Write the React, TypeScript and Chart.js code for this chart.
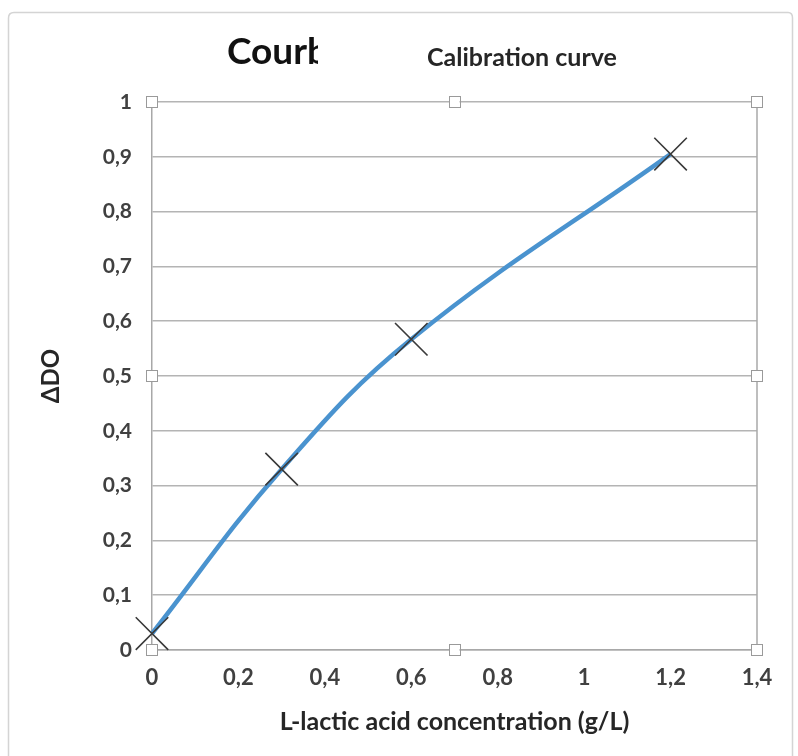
import React, { useEffect, useRef } from "react";
import { Chart, registerables } from "chart.js";

Chart.register(...registerables);

const concentrations = [0, 0.3, 0.6, 1.2];
const deltaDO = [0.03, 0.33, 0.567, 0.905];
const xTitle = "L-lactic acid concentration (g/L)";
const yTitle = "ΔDO";
const mainTitle = "Courbe";
const subTitle = "Calibration curve";

const fmt = (v: number) => String(Number(Number(v).toFixed(1))).replace(".", ",");
const FONT = "Lato, 'Liberation Sans', sans-serif";

const decorPlugin = {
  id: "decor",
  beforeDraw(chart: any) {
    const ctx = chart.ctx;
    ctx.save();
    ctx.fillStyle = "#ffffff";
    ctx.fillRect(0, 0, chart.width, chart.height);
    ctx.strokeStyle = "#d4d4d4";
    ctx.lineWidth = 1.5;
    ctx.beginPath();
    ctx.moveTo(8.5, chart.height + 5);
    ctx.lineTo(8.5, 18);
    ctx.quadraticCurveTo(8.5, 12.5, 14, 12.5);
    ctx.lineTo(chart.width - 10, 12.5);
    ctx.quadraticCurveTo(chart.width - 5.5, 12.5, chart.width - 5.5, 18);
    ctx.lineTo(chart.width - 5.5, chart.height + 5);
    ctx.stroke();
    ctx.restore();
  },
  afterDatasetsDraw(chart: any) {
    const { left, right, top, bottom } = chart.chartArea;
    const ctx = chart.ctx;
    ctx.save();
    ctx.strokeStyle = "#a8a8a8";
    ctx.lineWidth = 1.5;
    ctx.beginPath();
    ctx.moveTo(right, top);
    ctx.lineTo(right, bottom);
    ctx.stroke();
    const mx = (left + right) / 2;
    const my = (top + bottom) / 2;
    const pts = [
      [left, top], [mx, top], [right, top],
      [left, my], [right, my],
      [left, bottom], [mx, bottom], [right, bottom],
    ];
    ctx.fillStyle = "#ffffff";
    ctx.strokeStyle = "#9a9a9a";
    ctx.lineWidth = 1;
    for (const [x, y] of pts) {
      ctx.fillRect(x - 5, y - 5, 10, 10);
      ctx.strokeRect(Math.round(x) - 5.5, Math.round(y) - 5.5, 11, 11);
    }
    ctx.restore();
  },
};

export default function App() {
  const ref = useRef<HTMLCanvasElement>(null);
  useEffect(() => {
    if (!ref.current) return;
    const chart = new Chart(ref.current, {
      type: "scatter",
      data: {
        datasets: [
          {
            data: concentrations.map((x, i) => ({ x, y: deltaDO[i] })),
            showLine: true,
            tension: 0.4,
            clip: false,
            borderColor: "#4a93cf",
            borderWidth: 4.5,
            pointStyle: "crossRot",
            pointRadius: 23,
            pointBorderColor: "#3a3a3a",
            pointBorderWidth: 1.6,
            pointBackgroundColor: "#3a3a3a",
          },
        ],
      },
      options: {
        animation: false,
        responsive: false,
        devicePixelRatio: 1,
        layout: { padding: { left: 0, top: 102, right: 41, bottom: 0 } },
        plugins: { legend: { display: false }, tooltip: { enabled: false }, title: { display: false } },
        scales: {
          x: {
            type: "linear",
            min: 0,
            max: 1.4,
            ticks: {
              stepSize: 0.2,
              padding: 15,
              color: "#404040",
              font: { family: FONT, size: 22, weight: "bold" },
              callback: (v: any) => fmt(v),
            },
            grid: { display: false, drawTicks: false },
            border: { display: true, color: "#a8a8a8", width: 1.5 },
            title: {
              display: true,
              text: xTitle,
              color: "#262626",
              font: { family: FONT, size: 25, weight: "bold" },
              padding: { top: 0, bottom: 19 },
            },
            afterFit: (s: any) => { s.height = 106; },
          },
          y: {
            type: "linear",
            min: 0,
            max: 1,
            ticks: {
              stepSize: 0.1,
              padding: 20,
              color: "#404040",
              font: { family: FONT, size: 21, weight: "bold" },
              callback: (v: any) => fmt(v),
            },
            grid: { color: "#b4b4b4", lineWidth: 1.5, drawTicks: false },
            border: { display: true, color: "#a8a8a8", width: 1.5 },
            title: {
              display: true,
              text: yTitle,
              color: "#262626",
              font: { family: FONT, size: 24, weight: "bold" },
              padding: { top: 37, bottom: 0 },
            },
            afterFit: (s: any) => { s.width = 152; },
          },
        },
      },
      plugins: [decorPlugin],
    } as any);
    return () => chart.destroy();
  }, []);
  return (
    <div style={{ position: "fixed", left: 0, top: 0, width: 798, height: 756, background: "#fff" }}>
      <canvas ref={ref} width={798} height={756} style={{ display: "block" }} />
      <div
        style={{
          position: "absolute", left: 227, top: 28, width: 91, overflow: "hidden", whiteSpace: "nowrap",
          fontFamily: FONT, fontWeight: "bold", fontSize: 37, color: "#111", lineHeight: 1.2,
        }}
      >
        {mainTitle}
      </div>
      <div
        style={{
          position: "absolute", left: 427, top: 41, whiteSpace: "nowrap",
          fontFamily: FONT, fontWeight: "bold", fontSize: 25, color: "#262626", lineHeight: 1.2,
        }}
      >
        {subTitle}
      </div>
    </div>
  );
}
